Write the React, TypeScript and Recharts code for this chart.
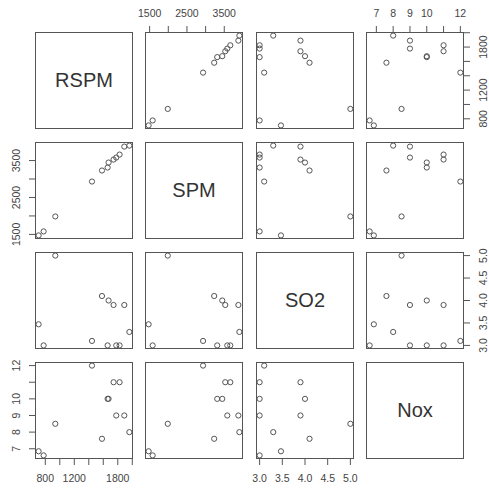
import { ScatterChart, Scatter, XAxis, YAxis } from "recharts"

const RSPM = [708, 777, 938, 1444, 1582, 1660, 1673, 1742, 1779, 1825, 1890, 1960]
const SPM = [1473, 1581, 1986, 2932, 3230, 3311, 3446, 3527, 3581, 3662, 3878, 3905]
const SO2 = [3.47, 3.0, 5.0, 3.1, 4.1, 3.0, 4.0, 3.9, 3.0, 3.0, 3.9, 3.3]
const NOX = [6.85, 6.6, 8.5, 12, 7.6, 10, 10, 11, 9, 11, 9, 8]

const VARS = ["RSPM", "SPM", "SO2", "Nox"]

// tick positions and the labels R actually printed (overlapping ones dropped)
const RSPM_TICKS = [800, 1000, 1200, 1400, 1600, 1800, 2000]
const RSPM_LABELS = [800, 1200, 1800]
const SPM_TICKS = [1500, 2000, 2500, 3000, 3500]
const SPM_LABELS = [1500, 2500, 3500]
const SO2_TICKS = [3.0, 3.5, 4.0, 4.5, 5.0]
const SO2_LABELS = [3.0, 3.5, 4.0, 4.5, 5.0]
const NOX_TICKS = [7, 8, 9, 10, 11, 12]
const NOX_LABELS = [7, 8, 9, 10, 12]

const data = RSPM.map((_, i) => ({
  RSPM: RSPM[i],
  SPM: SPM[i],
  SO2: SO2[i],
  Nox: NOX[i]
}))

const ticks = [RSPM_TICKS, SPM_TICKS, SO2_TICKS, NOX_TICKS]
const labels = [RSPM_LABELS, SPM_LABELS, SO2_LABELS, NOX_LABELS]
const fmts = [
  (v: number) => String(v),
  (v: number) => String(v),
  (v: number) => v.toFixed(1),
  (v: number) => String(v)
]

// R style 4% padding of the data range
const domainOf = (arr: number[]): [number, number] => {
  const lo = Math.min(...arr)
  const hi = Math.max(...arr)
  const r = hi - lo
  return [lo - 0.04 * r, hi + 0.04 * r]
}
const domains = [domainOf(RSPM), domainOf(SPM), domainOf(SO2), domainOf(NOX)]

const COL_X = [35, 145, 256, 366]
const ROW_Y = [32, 142, 252, 362]
const W = 98
const H = 97
const AX = 32
const M = 14 // room so end labels are not clipped
const LINE = "#555"
const TEXT = "#444"
const FONT = "'Liberation Sans', Arial, sans-serif"

function Tick(props: any) {
  const { x, y, payload, side, k } = props
  const v = payload.value
  if (!labels[k].some((l: number) => Math.abs(l - v) < 1e-9)) return null
  const off = 13
  let tx = x
  let ty = y
  let rot = false
  if (side === "top") ty = y - off
  if (side === "bottom") ty = y + off
  if (side === "left") { tx = x - off; rot = true }
  if (side === "right") { tx = x + off; rot = true }
  return (
    <text
      x={tx}
      y={ty}
      textAnchor="middle"
      dominantBaseline="central"
      fontSize={10.5}
      fontFamily={FONT}
      fill={TEXT}
      transform={rot ? `rotate(-90 ${tx} ${ty})` : undefined}
    >
      {fmts[k](v)}
    </text>
  )
}

function Panel({ row, col }: { row: number; col: number }) {
  const top = row === 0 && col % 2 === 1
  const bottom = row === 3 && col % 2 === 0
  const left = col === 0 && row % 2 === 1
  const right = col === 3 && row % 2 === 0

  const padL = (left ? AX : 0) + M
  const padT = (top ? AX : 0) + M
  const padR = (right ? AX : 0) + M
  const padB = (bottom ? AX : 0) + M

  const xSide = top ? "top" : "bottom"
  const ySide = left ? "left" : "right"

  return (
    <div style={{ position: "absolute", left: COL_X[col] - padL, top: ROW_Y[row] - padT }}>
      <ScatterChart
        width={W + padL + padR}
        height={H + padT + padB}
        margin={{ top: M, right: M, bottom: M, left: M }}
      >
        <XAxis
          type="number"
          dataKey={VARS[col]}
          domain={domains[col]}
          allowDataOverflow
          ticks={ticks[col]}
          interval={0}
          orientation={xSide}
          hide={!(top || bottom)}
          height={AX}
          axisLine={false}
          stroke={LINE}
          tickSize={6}
          tickMargin={0}
          tick={(p: any) => <Tick {...p} side={xSide} k={col} />}
        />
        <YAxis
          type="number"
          dataKey={VARS[row]}
          domain={domains[row]}
          allowDataOverflow
          ticks={ticks[row]}
          interval={0}
          orientation={ySide}
          hide={!(left || right)}
          width={AX}
          axisLine={false}
          stroke={LINE}
          tickSize={6}
          tickMargin={0}
          tick={(p: any) => <Tick {...p} side={ySide} k={row} />}
        />
        <Scatter
          data={data}
          isAnimationActive={false}
          shape={(p: any) => (
            <circle cx={p.cx} cy={p.cy} r={2.6} fill="none" stroke={LINE} strokeWidth={1} />
          )}
        />
      </ScatterChart>
      <div
        style={{
          position: "absolute",
          left: padL,
          top: padT,
          width: W,
          height: H,
          boxSizing: "border-box",
          border: `1px solid ${LINE}`,
          pointerEvents: "none"
        }}
      />
    </div>
  )
}

function Diag({ i }: { i: number }) {
  return (
    <div
      style={{
        position: "absolute",
        left: COL_X[i],
        top: ROW_Y[i],
        width: W,
        height: H,
        boxSizing: "border-box",
        border: `1px solid ${LINE}`,
        display: "flex",
        alignItems: "center",
        justifyContent: "center",
        fontFamily: FONT,
        fontSize: 20,
        color: "#333"
      }}
    >
      {VARS[i]}
    </div>
  )
}

export default function App() {
  const cells = []
  for (let r = 0; r < 4; r++) {
    for (let c = 0; c < 4; c++) {
      cells.push(r === c ? <Diag key={`${r}-${c}`} i={r} /> : <Panel key={`${r}-${c}`} row={r} col={c} />)
    }
  }
  return (
    <div style={{ position: "absolute", left: 0, top: 0, width: 489, height: 489, background: "#fff" }}>
      {cells}
    </div>
  )
}
